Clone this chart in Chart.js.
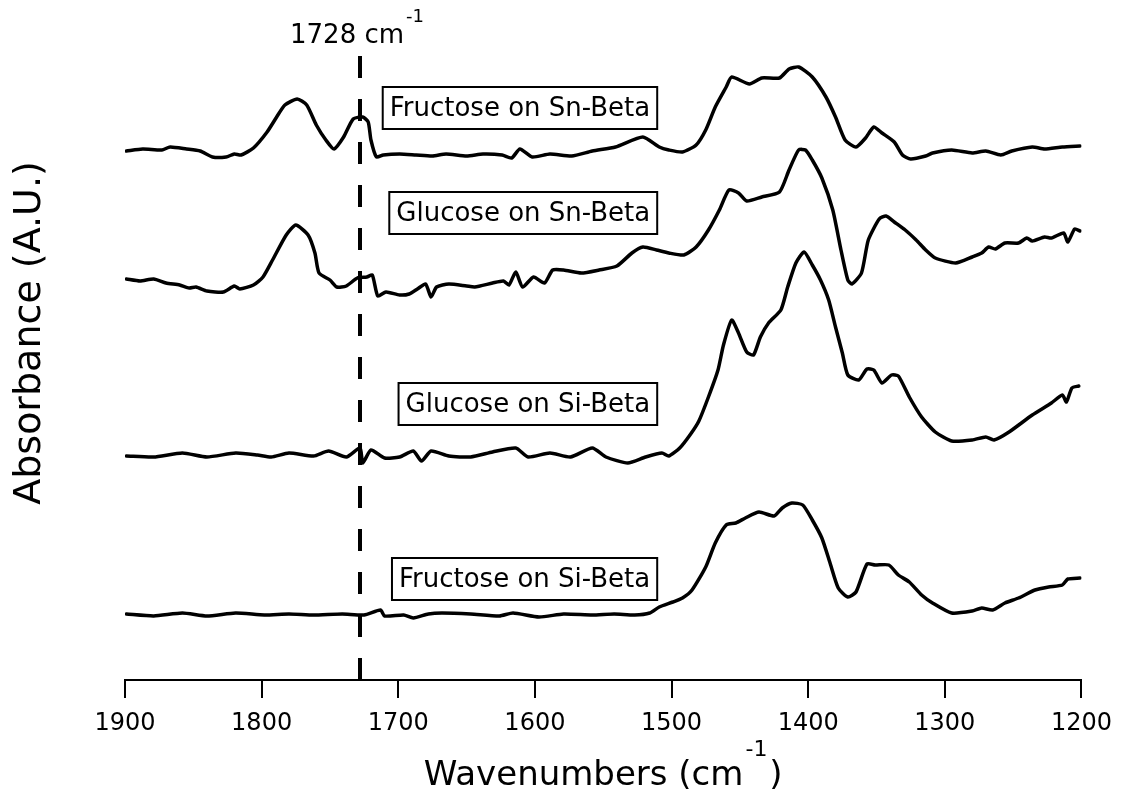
<!DOCTYPE html>
<html>
<head>
<meta charset="utf-8">
<title>IR spectra</title>
<script src="https://cdn.jsdelivr.net/npm/chart.js@4.4.1/dist/chart.umd.min.js"></script>
<style>
  html, body { margin: 0; padding: 0; background: #fff; }
  canvas { display: block; }
</style>
</head>
<body>
<canvas id="irChart" width="1123" height="803"></canvas>
<script>
// wavenumber ticks (cm-1), axis runs high -> low
const xTickValues = [1900, 1800, 1700, 1600, 1500, 1400, 1300, 1200];

// Fructose on Sn-Beta (top trace, offset)
const fructoseSnWn = [1899,1887,1873,1867,1855,1845,1836,1826,1820,1815,1806,1796,1789,1783,1774,1767,1760,1753,1747,1740,1733,1726,1722,1720,1716,1711,1699,1687,1675,1665,1650,1638,1624,1617,1611,1602,1589,1573,1558,1541,1521,1509,1502,1492,1482,1475,1468,1460,1456,1443,1434,1421,1414,1407,1397,1387,1380,1373,1365,1358,1352,1346,1337,1331,1325,1314,1309,1295,1280,1270,1259,1251,1236,1227,1214,1201];
const fructoseSnAbs = [52.9,53.1,53.0,53.3,53.1,52.9,52.3,52.3,52.6,52.5,53.2,54.8,56.3,57.5,58.1,57.5,55.5,54.0,53.1,54.3,56.1,56.3,55.8,54.0,52.3,52.5,52.6,52.5,52.4,52.6,52.4,52.6,52.5,52.2,53.1,52.3,52.6,52.4,52.9,53.3,54.3,53.3,53.0,52.8,53.5,55.0,57.3,59.3,60.3,59.6,60.2,60.2,61.1,61.3,60.3,58.3,56.3,54.0,53.3,54.2,55.3,54.7,53.8,52.5,52.1,52.4,52.7,53.0,52.7,52.9,52.5,52.9,53.3,53.1,53.3,53.4];

// Glucose on Sn-Beta
const glucoseSnWn = [1899,1889,1879,1870,1860,1853,1848,1840,1828,1820,1816,1806,1799,1792,1782,1775,1766,1761,1758,1750,1745,1738,1730,1723,1719,1715,1709,1699,1692,1686,1680,1676,1672,1663,1650,1644,1631,1623,1619,1614,1609,1601,1593,1587,1579,1566,1553,1540,1529,1521,1511,1502,1491,1482,1473,1465,1458,1451,1445,1434,1421,1414,1407,1402,1397,1390,1382,1376,1371,1368,1361,1356,1348,1343,1337,1329,1321,1314,1307,1292,1280,1273,1268,1263,1256,1246,1240,1236,1227,1222,1213,1210,1205,1201];
const glucoseSnAbs = [40.1,39.9,40.1,39.7,39.5,39.2,39.3,38.9,38.8,39.4,39.1,39.5,40.3,42.0,44.5,45.5,44.5,42.7,40.7,40.0,39.3,39.4,40.2,40.3,40.5,38.4,38.8,38.5,38.6,39.1,39.6,38.3,39.3,39.6,39.4,39.3,39.7,39.9,39.5,40.8,39.3,40.3,39.7,41.0,41.0,40.7,41.0,41.4,42.7,43.3,43.0,42.7,42.5,43.3,45.0,47.0,49.0,48.7,47.9,48.3,48.8,51.0,53.0,53.0,52.0,50.2,47.0,43.0,40.0,39.6,40.7,44.0,46.1,46.4,45.8,45.0,44.0,43.0,42.2,41.7,42.3,42.7,43.3,43.1,43.7,43.7,44.2,43.9,44.3,44.2,44.7,43.8,45.1,44.9];

// Glucose on Si-Beta
const glucoseSiWn = [1899,1879,1858,1840,1819,1803,1793,1780,1762,1751,1738,1728,1726,1720,1710,1699,1689,1683,1676,1663,1647,1631,1614,1605,1589,1574,1558,1548,1532,1519,1507,1502,1494,1486,1480,1473,1466,1462,1456,1451,1445,1440,1435,1429,1420,1415,1409,1403,1397,1391,1385,1380,1375,1371,1363,1357,1352,1346,1339,1334,1326,1317,1307,1295,1280,1270,1264,1253,1236,1222,1214,1211,1207,1202];
const glucoseSiAbs = [22.4,22.3,22.7,22.3,22.7,22.5,22.3,22.7,22.4,22.9,22.3,23.2,21.7,23.0,22.2,22.3,22.9,21.9,22.9,22.4,22.3,22.8,23.2,22.3,22.7,22.3,23.2,22.3,21.7,22.3,22.7,22.4,23.2,24.6,25.9,28.3,31.0,33.5,36.0,34.7,32.8,32.5,34.3,35.7,37.0,39.3,41.7,42.8,41.5,40.0,38.0,35.3,32.7,30.5,30.0,31.1,31.0,29.7,30.5,30.4,28.3,26.3,24.8,23.9,24.0,24.3,24.0,24.8,26.5,27.7,28.5,27.8,29.2,29.4];

// Fructose on Si-Beta (bottom trace)
const fructoseSiWn = [1899,1879,1858,1840,1819,1798,1780,1762,1741,1725,1713,1710,1696,1689,1678,1668,1647,1626,1616,1597,1579,1558,1542,1527,1516,1509,1499,1492,1485,1475,1468,1460,1453,1446,1436,1425,1419,1412,1404,1397,1390,1384,1378,1371,1365,1357,1351,1341,1334,1326,1317,1309,1295,1280,1273,1265,1256,1246,1234,1224,1214,1210,1201];
const fructoseSiAbs = [6.6,6.4,6.7,6.4,6.7,6.5,6.6,6.5,6.6,6.5,7.0,6.4,6.5,6.2,6.6,6.7,6.6,6.4,6.7,6.3,6.6,6.5,6.6,6.5,6.7,7.3,7.8,8.2,9.0,11.3,13.7,15.5,15.7,16.2,16.8,16.4,17.2,17.7,17.5,16.0,14.2,11.7,9.2,8.3,8.8,11.6,11.5,11.5,10.5,9.8,8.5,7.7,6.7,6.9,7.2,7.0,7.7,8.2,9.0,9.3,9.5,10.1,10.2];

// 1728 cm-1 marker line
const markerWn = [1728, 1728];
const markerAbs = [0, 63.2];

// boxed trace labels: right edge (wavenumber) and vertical centre (A.U.)
const boxLabels = [
  { text: 'Fructose on Sn-Beta', wn: 1510.5, a: 57.2 },
  { text: 'Glucose on Sn-Beta', wn: 1510.5, a: 46.7 },
  { text: 'Glucose on Si-Beta', wn: 1510.5, a: 27.6 },
  { text: 'Fructose on Si-Beta', wn: 1510.5, a: 10.1 }
];

function toPoints(xs, ys) {
  return xs.map((v, i) => ({ x: v, y: ys[i] }));
}

function traceDataset(label, xs, ys) {
  return {
    label: label,
    data: toPoints(xs, ys),
    borderColor: '#000',
    borderWidth: 3.5,
    pointRadius: 0,
    tension: 0.2,
    borderJoinStyle: 'round',
    borderCapStyle: 'round',
    showLine: true,
    fill: false
  };
}

const FONT = '"DejaVu Sans", "Liberation Sans", sans-serif';

const textPlugin = {
  id: 'spectraText',
  afterDatasetsDraw(chart) {
    const ctx = chart.ctx;
    const x = chart.scales.x;
    const y = chart.scales.y;
    ctx.save();
    ctx.textBaseline = 'middle';
    ctx.textAlign = 'left';

    // boxed labels
    ctx.font = '26px ' + FONT;
    boxLabels.forEach(lb => {
      const w = ctx.measureText(lb.text).width;
      const right = x.getPixelForValue(lb.wn);
      const cy = y.getPixelForValue(lb.a);
      const left = right - w - 14;
      ctx.fillStyle = '#fff';
      ctx.fillRect(left, cy - 21, w + 14, 42);
      ctx.strokeStyle = '#000';
      ctx.lineWidth = 2;
      ctx.strokeRect(left, cy - 21, w + 14, 42);
      ctx.fillStyle = '#000';
      ctx.fillText(lb.text, left + 7, cy + 1);
    });

    // 1728 cm-1 label on top of the marker
    const mx = x.getPixelForValue(markerWn[0]);
    ctx.font = '26px ' + FONT;
    const main = '1728 cm';
    const mw = ctx.measureText(main).width;
    ctx.fillText(main, mx - 70, 36);
    ctx.font = '18px ' + FONT;
    ctx.fillText('-1', mx - 70 + mw + 2, 17);
    ctx.restore();
  },
  afterDraw(chart) {
    const ctx = chart.ctx;
    const area = chart.chartArea;
    ctx.save();
    ctx.fillStyle = '#000';
    ctx.textBaseline = 'middle';
    ctx.textAlign = 'left';

    // x title with superscript
    const big = '34px ' + FONT;
    const small = '22px ' + FONT;
    ctx.font = big;
    const w1 = ctx.measureText('Wavenumbers (cm').width;
    const w3 = ctx.measureText(')').width;
    ctx.font = small;
    const w2 = ctx.measureText('-1').width;
    const total = w1 + w2 + 4 + w3;
    const tx = (area.left + area.right) / 2 - total / 2;
    const ty = 776;
    ctx.font = big;
    ctx.fillText('Wavenumbers (cm', tx, ty);
    ctx.font = small;
    ctx.fillText('-1', tx + w1 + 2, ty - 26);
    ctx.font = big;
    ctx.fillText(')', tx + w1 + w2 + 4, ty);

    // y title
    ctx.translate(30, 333);
    ctx.rotate(-Math.PI / 2);
    ctx.textAlign = 'center';
    ctx.font = '38px ' + FONT;
    ctx.fillText('Absorbance (A.U.)', 0, 0);
    ctx.restore();
  }
};

const ctx = document.getElementById('irChart');

new Chart(ctx, {
  type: 'scatter',
  data: {
    datasets: [
      traceDataset('Fructose on Sn-Beta', fructoseSnWn, fructoseSnAbs),
      traceDataset('Glucose on Sn-Beta', glucoseSnWn, glucoseSnAbs),
      traceDataset('Glucose on Si-Beta', glucoseSiWn, glucoseSiAbs),
      traceDataset('Fructose on Si-Beta', fructoseSiWn, fructoseSiAbs),
      {
        label: '1728',
        data: toPoints(markerWn, markerAbs),
        borderColor: '#000',
        borderWidth: 4,
        borderDash: [22, 21],
        borderCapStyle: 'butt',
        pointRadius: 0,
        showLine: true,
        fill: false
      }
    ]
  },
  options: {
    responsive: false,
    animation: false,
    events: [],
    layout: {
      padding: { left: 125, right: 41, top: 40, bottom: 0 }
    },
    plugins: {
      legend: { display: false },
      tooltip: { enabled: false }
    },
    scales: {
      x: {
        type: 'linear',
        reverse: true,
        min: 1200,
        max: 1900,
        afterBuildTicks: scale => {
          scale.ticks = xTickValues.map(v => ({ value: v }));
        },
        afterFit: scale => { scale.height = 123; },
        grid: {
          drawOnChartArea: false,
          drawTicks: true,
          tickLength: 18,
          color: '#000',
          lineWidth: 2
        },
        border: { display: true, color: '#000', width: 2 },
        ticks: {
          color: '#000',
          padding: 11,
          maxRotation: 0,
          autoSkip: false,
          font: { family: FONT, size: 24 },
          callback: v => String(v)
        }
      },
      y: {
        display: false,
        min: 0,
        max: 64
      }
    }
  },
  plugins: [textPlugin]
});
</script>
</body>
</html>
